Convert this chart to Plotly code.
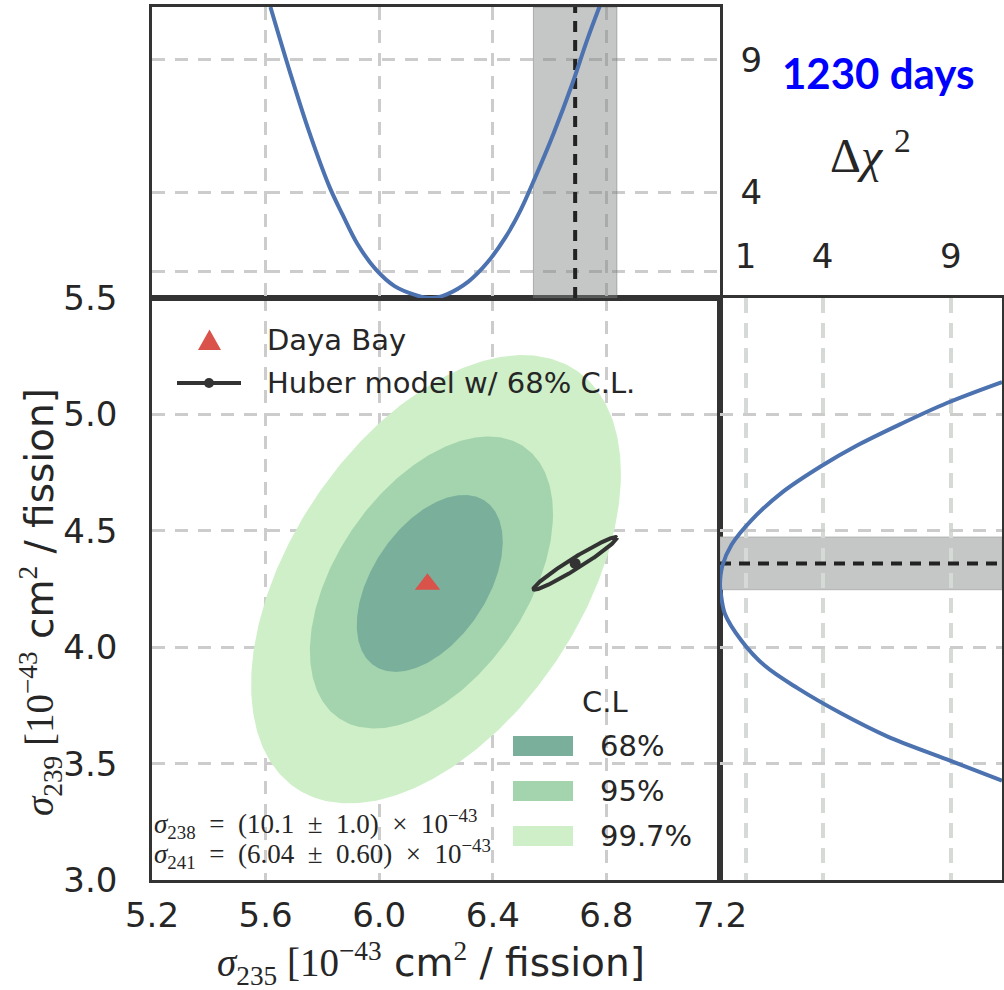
import numpy as np
import plotly.graph_objects as go

# ---- data -------------------------------------------------------------
# Daya Bay best fit [1e-43 cm^2 / fission]
DYB_235 = 6.17
DYB_239 = 4.27

# Huber model prediction with 1-sigma errors and correlation
HUBER_235 = 6.69
HUBER_235_ERR = 0.147
HUBER_239 = 4.36
HUBER_239_ERR = 0.113
HUBER_RHO = 0.97

# Allowed regions: centre, half extent along each axis, correlation
CL_LABELS = ["68%", "95%", "99.7%"]
CL_CENTER_235 = [6.178, 6.184, 6.200]
CL_CENTER_239 = [4.274, 4.278, 4.292]
CL_HALF_235 = [0.257, 0.428, 0.651]
CL_HALF_239 = [0.380, 0.627, 0.963]
CL_RHO = [0.47, 0.47, 0.47]
CL_COLORS = ["#7aaf9c", "#a3d4ad", "#ceefc7"]

# Marginal delta-chi2 profile in sigma_235
PROF_235_SIGMA = [5.617, 5.686, 5.754, 5.825, 5.871, 5.923, 5.988, 6.054, 6.132,
                  6.184, 6.236, 6.314, 6.380, 6.445, 6.497, 6.549, 6.614, 6.680,
                  6.732, 6.777]
PROF_235_CHI2 = [11.0, 8.53, 6.26, 4.20, 3.15, 2.05, 1.08, 0.45, 0.10,
                 0.0, 0.13, 0.62, 1.33, 2.30, 3.30, 4.55, 6.22, 8.10,
                 9.75, 11.05]

# Marginal delta-chi2 profile in sigma_239
PROF_239_CHI2 = [11.0, 8.85, 7.04, 5.36, 3.94, 2.39, 1.23, 0.45, 0.09, 0.0,
                 0.03, 0.19, 0.84, 1.74, 3.04, 4.72, 6.52, 8.85, 11.0]
PROF_239_SIGMA = [5.139, 5.049, 4.958, 4.867, 4.777, 4.662, 4.546, 4.440, 4.349,
                  4.270, 4.234, 4.144, 4.028, 3.921, 3.823, 3.716, 3.617, 3.518,
                  3.427]

X_TICKS = [5.2, 5.6, 6.0, 6.4, 6.8, 7.2]
Y_TICKS = [3.0, 3.5, 4.0, 4.5, 5.0, 5.5]
CHI2_RANGE = [0, 11]
CHI2_TICKS = [1, 4, 9]
CHI2_TOP_TEXT = ["", "4", "9"]
CHI2_SIDE_TEXT = ["1", "4", "9"]

# ---- styling ------------------------------------------------------------
W, H = 1004, 990
SANS = "DejaVu Sans"
SERIF = "Liberation Serif"
TXT = "#262626"
FRAME = "#333333"
GRID = "#cccccc"
BLUE = "#4c72b0"
RED = "#d9534a"


def fx(px):
    return px / W


def fy(py):
    return 1 - py / H


def ellipse(cx, cy, ax, by, rho, n=361):
    t = np.linspace(0, 2 * np.pi, n)
    x = cx + ax * np.cos(t)
    y = cy + by * (rho * np.cos(t) + np.sqrt(1 - rho ** 2) * np.sin(t))
    return x, y


fig = go.Figure()

# confidence regions, widest first
for i in reversed(range(len(CL_LABELS))):
    ex, ey = ellipse(CL_CENTER_235[i], CL_CENTER_239[i], CL_HALF_235[i],
                     CL_HALF_239[i], CL_RHO[i])
    fig.add_trace(go.Scatter(
        x=ex, y=ey, mode="lines", fill="toself", fillcolor=CL_COLORS[i],
        line=dict(width=0, color=CL_COLORS[i]), name=CL_LABELS[i],
        hoverinfo="skip", showlegend=False, xaxis="x", yaxis="y"))

# Huber model 68% ellipse and central value
hx, hy = ellipse(HUBER_235, HUBER_239, HUBER_235_ERR, HUBER_239_ERR, HUBER_RHO)
fig.add_trace(go.Scatter(x=hx, y=hy, mode="lines",
                         line=dict(color=FRAME, width=4), hoverinfo="skip",
                         showlegend=False, xaxis="x", yaxis="y"))
fig.add_trace(go.Scatter(x=[HUBER_235], y=[HUBER_239], mode="markers",
                         marker=dict(symbol="circle", size=11, color=FRAME),
                         showlegend=False, xaxis="x", yaxis="y"))

# Daya Bay best fit
fig.add_trace(go.Scatter(x=[DYB_235], y=[DYB_239], mode="markers",
                         marker=dict(symbol="triangle-up", size=22, color=RED),
                         showlegend=False, xaxis="x", yaxis="y"))

# Huber 1-sigma band and central value in the sigma_235 profile panel
h_lo, h_hi = HUBER_235 - HUBER_235_ERR, HUBER_235 + HUBER_235_ERR
fig.add_trace(go.Scatter(
    x=[h_lo, h_hi, h_hi, h_lo, h_lo],
    y=[CHI2_RANGE[0], CHI2_RANGE[0], CHI2_RANGE[1], CHI2_RANGE[1], CHI2_RANGE[0]],
    mode="lines", fill="toself", fillcolor="rgba(128,131,130,0.46)",
    line=dict(color="rgba(110,110,110,0.45)", width=1), hoverinfo="skip",
    showlegend=False, xaxis="x2", yaxis="y2"))
fig.add_trace(go.Scatter(
    x=[HUBER_235, HUBER_235], y=CHI2_RANGE, mode="lines",
    line=dict(color="#222222", width=4, dash="11px,8px"), hoverinfo="skip",
    showlegend=False, xaxis="x2", yaxis="y2"))
fig.add_trace(go.Scatter(
    x=CHI2_RANGE, y=[HUBER_239, HUBER_239], mode="lines",
    line=dict(color="#222222", width=4, dash="11px,8px"), hoverinfo="skip",
    showlegend=False, xaxis="x3", yaxis="y3"))

# marginal profiles
fig.add_trace(go.Scatter(x=PROF_235_SIGMA, y=PROF_235_CHI2, mode="lines",
                         line=dict(color=BLUE, width=4, shape="spline", smoothing=1.0),
                         showlegend=False, xaxis="x2", yaxis="y2"))
fig.add_trace(go.Scatter(x=PROF_239_CHI2, y=PROF_239_SIGMA, mode="lines",
                         line=dict(color=BLUE, width=4, shape="spline", smoothing=1.0),
                         showlegend=False, xaxis="x3", yaxis="y3"))

shapes = []
# Huber band in the sigma_239 profile panel (gridlines stay on top)
shapes.append(dict(type="rect", xref="x3", yref="y3",
                   x0=CHI2_RANGE[0], x1=CHI2_RANGE[1],
                   y0=HUBER_239 - HUBER_239_ERR, y1=HUBER_239 + HUBER_239_ERR,
                   fillcolor="#c5c7c6", line=dict(color="#b0b2b1", width=1),
                   layer="below"))

# legend glyphs (upper left)
tri = (f"M {fx(209.5)},{fy(329.5)} L {fx(221)},{fy(350)} L {fx(198)},{fy(350)} Z")
shapes.append(dict(type="path", xref="paper", yref="paper", path=tri,
                   fillcolor=RED, line=dict(width=0)))
shapes.append(dict(type="line", xref="paper", yref="paper",
                   x0=fx(177), x1=fx(241), y0=fy(383), y1=fy(383),
                   line=dict(color=FRAME, width=4)))
shapes.append(dict(type="circle", xref="paper", yref="paper",
                   x0=fx(204), x1=fx(214), y0=fy(378), y1=fy(388),
                   fillcolor=FRAME, line=dict(width=0)))

# C.L. legend boxes
box_y = [746, 791, 836]
for i in range(len(CL_LABELS)):
    shapes.append(dict(type="rect", xref="paper", yref="paper",
                       x0=fx(513), x1=fx(573), y0=fy(box_y[i] + 10), y1=fy(box_y[i] - 10),
                       fillcolor=CL_COLORS[i], line=dict(width=0)))

ann = []


def text(x, y, s, size, xanchor="left", color=TXT, family=SANS, angle=0):
    ann.append(dict(xref="paper", yref="paper", x=fx(x), y=fy(y), text=s,
                    showarrow=False, xanchor=xanchor, yanchor="middle",
                    textangle=angle, font=dict(family=family, size=size, color=color)))


text(265, 340, "Daya Bay", 29)
text(265, 383, "Huber model w/ 68% C.L.", 29)
text(580, 702, "C.L", 29)
for i in range(len(CL_LABELS)):
    text(598, box_y[i], CL_LABELS[i], 29)

sp = "\u2002"
text(152, 824,
     f"<i>σ</i><sub>238</sub>{sp}={sp}(10.1{sp}±{sp}1.0){sp}×{sp}10<sup>−43</sup>",
     27, family=SERIF)
text(152, 854,
     f"<i>σ</i><sub>241</sub>{sp}={sp}(6.04{sp}±{sp}0.60){sp}×{sp}10<sup>−43</sup>",
     27, family=SERIF)

serif_span = '<span style="font-family:Liberation Serif">'
xt = (f"{serif_span}<i>σ</i><sub>235</sub> [10<sup>−43</sup></span> cm"
      f"{serif_span}<sup>2</sup></span> / fission]")
yt = (f"{serif_span}<i>σ</i><sub>239</sub> [10<sup>−43</sup></span> cm"
      f"{serif_span}<sup>2</sup></span> / fission]")
text(431, 963, xt, 39, xanchor="center")
text(40, 602, yt, 39, xanchor="center", angle=-90)

text(870, 152, "Δ<i>χ</i> <sup>2</sup>", 48, xanchor="center", family=SERIF)
text(878, 73, "<b>1230 days</b>", 42, xanchor="center", color="#0000ff", family="Lato")

tickfont = dict(family=SANS, size=34, color=TXT)
base = dict(showgrid=True, gridcolor=GRID, gridwidth=2.5, griddash="13px,10px",
            showline=True, linecolor=FRAME, linewidth=2.5, mirror=True,
            ticks="", zeroline=False, tickfont=tickfont, automargin=False)

X_MAIN = [fx(152), fx(720)]
X_SIDE = [fx(720), fx(1002)]
Y_MAIN = [fy(880), fy(298)]
Y_TOP = [fy(298), fy(7)]

fig.update_layout(
    width=W, height=H,
    margin=dict(l=0, r=0, t=0, b=0),
    paper_bgcolor="white", plot_bgcolor="white",
    showlegend=False,
    font=dict(family=SANS, color=TXT),
    xaxis=dict(base, domain=X_MAIN, anchor="y", range=[5.2, 7.2],
               tickvals=X_TICKS, tickformat=".1f", ticklabelstandoff=3),
    yaxis=dict(base, domain=Y_MAIN, anchor="x", range=[3.0, 5.5],
               tickvals=Y_TICKS, tickformat=".1f", ticklabelstandoff=25),
    xaxis2=dict(base, domain=X_MAIN, anchor="y2", matches="x",
                tickvals=X_TICKS, showticklabels=False),
    yaxis2=dict(base, domain=Y_TOP, anchor="x2", range=CHI2_RANGE, side="right",
                tickvals=CHI2_TICKS, ticktext=CHI2_TOP_TEXT, ticklabelstandoff=11),
    xaxis3=dict(base, domain=X_SIDE, anchor="y3", range=CHI2_RANGE, side="top",
                tickvals=CHI2_TICKS, ticktext=CHI2_SIDE_TEXT, ticklabelstandoff=14,
                gridcolor="#d6dad6", gridwidth=3.5, griddash="15px,10px"),
    yaxis3=dict(base, domain=Y_MAIN, anchor="x3", matches="y",
                tickvals=Y_TICKS, showticklabels=False),
    shapes=shapes,
    annotations=ann,
)

fig.write_html("out.html")
